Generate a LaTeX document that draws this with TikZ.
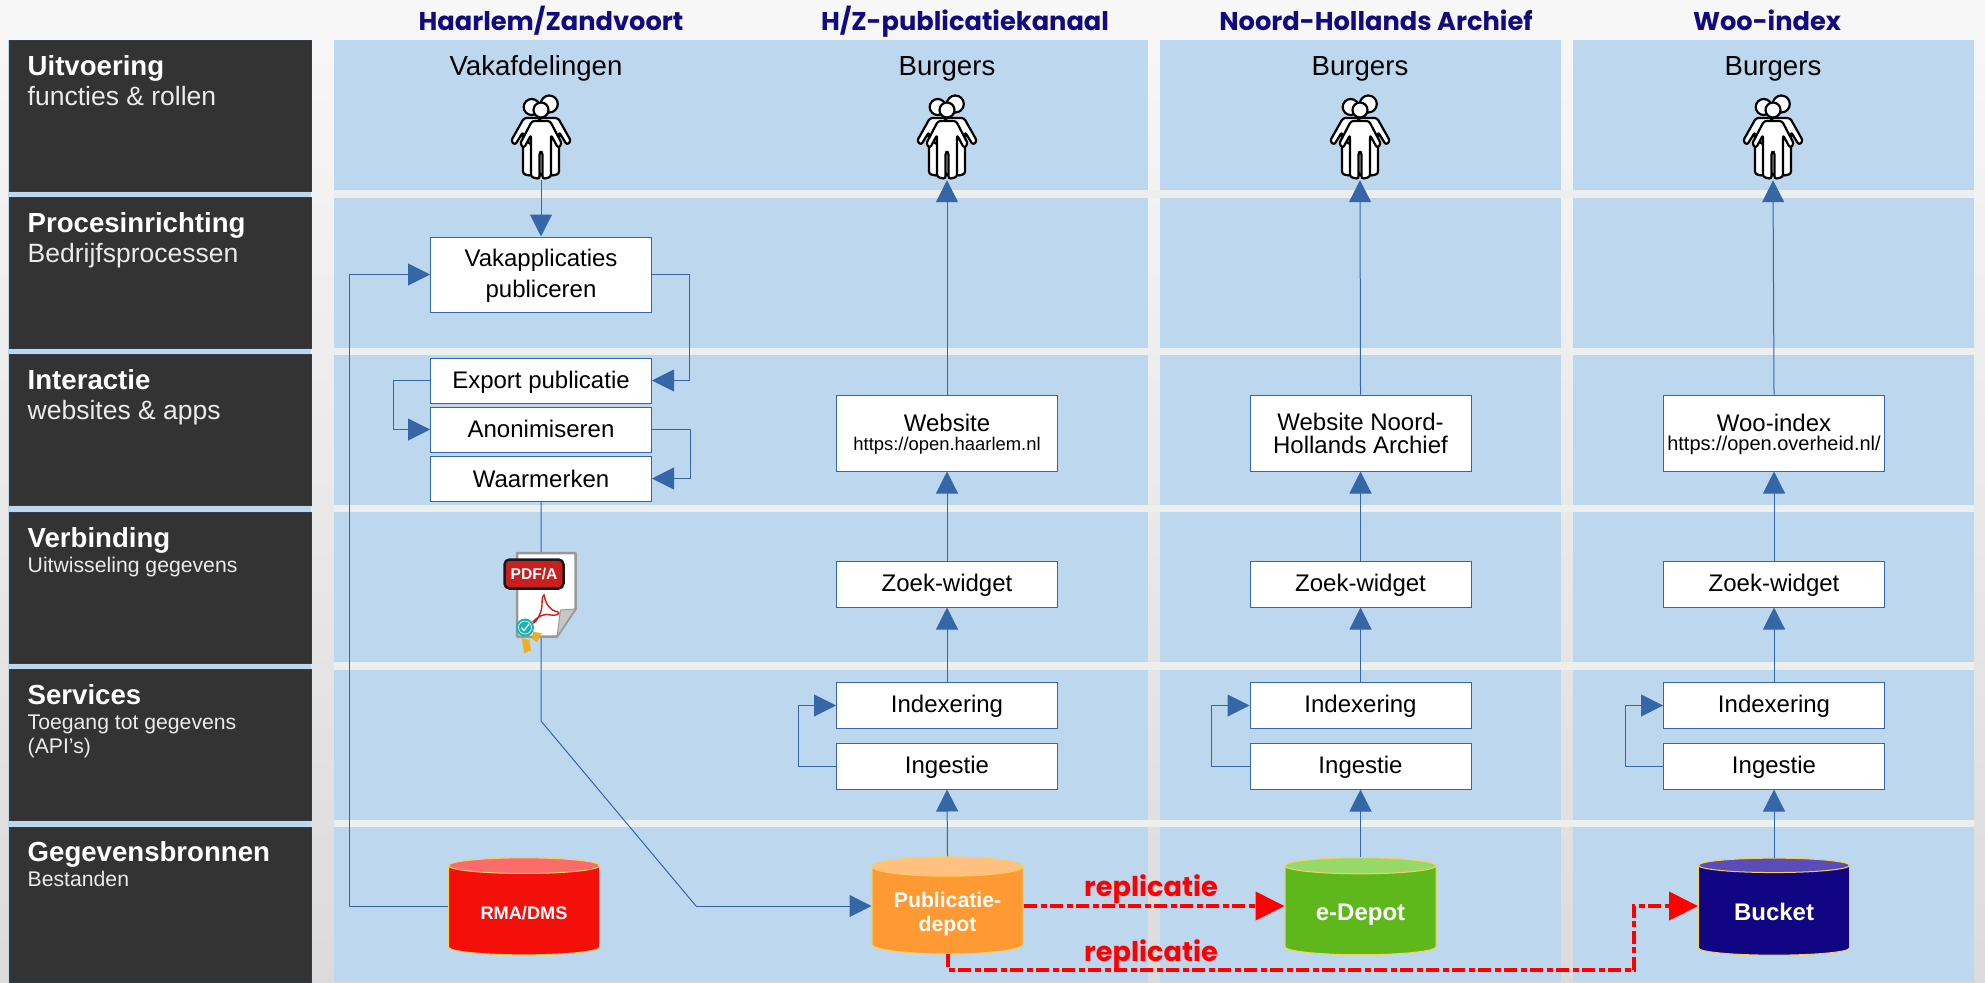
\documentclass[tikz,border=0pt]{standalone}
\usepackage{fontspec}
\setmainfont{Liberation Sans}
\newfontfamily\headfont{Poppins}
\usetikzlibrary{positioning,arrows.meta,shapes.geometric}
\definecolor{bandblue}{HTML}{BDD7EE}
\definecolor{bandgap}{HTML}{EDEEEE}
\definecolor{panelgrey}{HTML}{333333}
\definecolor{linkblue}{HTML}{3566A8}
\definecolor{headblue}{HTML}{120A80}
\definecolor{cylline}{HTML}{F2D15C}
\definecolor{rmabody}{HTML}{F40F0B}
\definecolor{rmaend}{HTML}{FB6B6B}
\definecolor{depotbody}{HTML}{FF9933}
\definecolor{depotend}{HTML}{FFC080}
\definecolor{edepotbody}{HTML}{5FB81B}
\definecolor{edepotend}{HTML}{98D868}
\definecolor{bucketbody}{HTML}{120583}
\definecolor{bucketend}{HTML}{5A4DB8}
\definecolor{lint}{HTML}{EFAE22}
\definecolor{zegelteal}{HTML}{1FB0B0}
\definecolor{badgered}{HTML}{C9201F}
\newcommand{\px}[1]{\fontsize{#1}{#1}\selectfont}

\begin{document}
\begin{tikzpicture}[x=1pt,y=-1pt,on grid,
    link/.style={draw=linkblue,line width=1pt,-{Triangle[length=22pt,width=22pt,fill=linkblue]}},
    plainlink/.style={draw=linkblue,line width=1pt},
    replink/.style={draw=red,line width=4pt,dash pattern=on 13pt off 4pt on 6pt off 3pt,-{Triangle[length=29pt,width=28pt,fill=red]}},
    box/.style={draw=linkblue,fill=white,line width=1pt,inner sep=0pt,minimum width=221pt,align=center,font=\fontsize{24}{31}\selectfont},
    onebox/.style={box,text height=18pt,text depth=4pt},
    stepbox/.style={onebox,text height=20pt,minimum height=45pt},
    panel/.style={draw=panelgrey!80!linkblue,fill=panelgrey,line width=.6pt,anchor=north west,minimum width=302pt,inner sep=0pt},
    ptitle/.style={anchor=base west,inner sep=0pt,text=white,font=\px{27.6}\bfseries},
    psub/.style={anchor=base west,inner sep=0pt,text=white!92!black,font=\px{26.5}},
    psmall/.style={anchor=base west,inner sep=0pt,text=white!92!black,font=\px{21.2}},
    kop/.style={anchor=base,inner sep=0pt,text=headblue,font=\headfont\px{25.7}\bfseries},
    actor/.style={anchor=base,inner sep=0pt,font=\px{27.6}},
    replabel/.style={anchor=base,inner sep=0pt,text=red,font=\headfont\px{27.2}\bfseries},
    store/.style={shape=cylinder,shape border rotate=90,aspect=.18,draw=cylline,line width=1pt,minimum width=151pt,minimum height=97pt,inner sep=0pt,
        cylinder uses custom fill,align=center,text=white,font=\fontsize{24}{24}\selectfont\bfseries},
    personbody/.style={draw=black,fill=white,line width=2.2pt,rounded corners=2.5pt,line join=round},
    persons/.pic={
        \foreach \dx in {-8,8} {
            \path[personbody] (\dx-9,-20) -- (\dx+9,-20) -- (\dx+22,3) -- (\dx+18,7) -- (\dx+10,-6) -- (\dx+10,36) -- (\dx+1.5,38) -- (\dx+1.5,12) -- (\dx-1.5,12) -- (\dx-1.5,38) -- (\dx-10,36) -- (\dx-10,-6) -- (\dx-18,7) -- (\dx-22,3) -- cycle;
        }
        \path[personbody] (-9.3,-31) circle (8pt);
        \path[personbody] (8.3,-34) circle (8.5pt);
        \path[personbody] (-9,-17) -- (9,-17) -- (21,6) -- (17,10) -- (10,-3) -- (10,39) -- (1.5,41) -- (1.5,14) -- (-1.5,14) -- (-1.5,41) -- (-10,39) -- (-10,-3) -- (-17,10) -- (-21,6) -- cycle;
        \path[personbody] (0,-28) circle (7.5pt);
    }]
\useasboundingbox (0,0) rectangle (1985,982);
% achtergrond
\shade[top color=white!97!black,bottom color=white!86!black] (0,0) rectangle (1985,982);
\fill[bandblue] (8,40) rectangle (311,982);
\fill[bandblue] (334,40) rectangle (1148,982);
\fill[bandblue] (1160,40) rectangle (1561,982);
\fill[bandblue] (1573,40) rectangle (1974,982);
\fill[bandgap] (334,190) rectangle (1974,198);
\fill[bandgap] (334,348) rectangle (1974,355);
\fill[bandgap] (334,505) rectangle (1974,512);
\fill[bandgap] (334,662) rectangle (1974,670);
\fill[bandgap] (334,820) rectangle (1974,827);

% kolomkoppen
\node[kop] (kop1) at (551,31) {Haarlem/Zandvoort};
\node[kop] (kop2) at (965,31) {H/Z-publicatiekanaal};
\node[kop] (kop3) at (1376,31) {Noord-Hollands Archief};
\node[kop] (kop4) at (1767,31) {Woo-index};

% lagen links
\node[panel,minimum height=151pt] (uitvoering) at (8.5,40) {};
\node[panel,minimum height=151pt] (proces) at (8.5,197) {};
\node[panel,minimum height=151pt] (interactie) at (8.5,354) {};
\node[panel,minimum height=151pt] (verbinding) at (8.5,512) {};
\node[panel,minimum height=151pt] (services) at (8.5,669) {};
\node[panel,minimum height=155pt] (bronnen) at (8.5,827) {};
\node[ptitle] (tuitvoering) at (27.5,75) {Uitvoering};
\node[psub] (suitvoering) at (27.5,105) {functies \& rollen};
\node[ptitle] (tproces) at (27.5,232) {Procesinrichting};
\node[psub] (sproces) at (27.5,262) {Bedrijfsprocessen};
\node[ptitle] (tinteractie) at (27.5,389) {Interactie};
\node[psub] (sinteractie) at (27.5,419) {websites \& apps};
\node[ptitle] (tverbinding) at (27.5,547) {Verbinding};
\node[psmall] (sverbinding) at (27.5,572) {Uitwisseling gegevens};
\node[ptitle] (tservices) at (27.5,704) {Services};
\node[psmall] (sservices) at (27.5,729) {Toegang tot gegevens};
\node[psmall] (sapi) at (27.5,753) {(API’s)};
\node[ptitle] (tbronnen) at (27.5,861) {Gegevensbronnen};
\node[psmall] (sbronnen) at (27.5,886) {Bestanden};

% actoren
\node[actor] (vak) at (536,75) {Vakafdelingen};
\node[actor] (burger2) at (947,75) {Burgers};
\node[actor] (burger3) at (1360,75) {Burgers};
\node[actor] (burger4) at (1773,75) {Burgers};
\node[minimum width=60pt,minimum height=84pt,inner sep=0pt] (groep1) at (541,138) {};
\node[minimum width=60pt,minimum height=84pt,inner sep=0pt] (groep2) at (947,138) {};
\node[minimum width=60pt,minimum height=84pt,inner sep=0pt] (groep3) at (1360,138) {};
\node[minimum width=60pt,minimum height=84pt,inner sep=0pt] (groep4) at (1773,138) {};
\pic at (groep1) {persons};
\pic at (groep2) {persons};
\pic at (groep3) {persons};
\pic at (groep4) {persons};

% Haarlem/Zandvoort
\node[box,minimum height=75pt] (vakapp) at (541,274.5) {\rule{0pt}{20pt}Vakapplicaties\\publiceren};
\node[stepbox] (export) at (541,380.5) {Export publicatie};
\node[stepbox] (anon) [below=49pt of export] {Anonimiseren};
\node[stepbox,text height=21pt] (waarmerk) [below=49pt of anon] {Waarmerken};

% kanaal
\node[box,minimum height=76pt] (web2) at (947,433) {\rule{0pt}{19.2pt}Website\\[-12pt]{\px{18.4}https://open.haarlem.nl}};
\node[onebox,minimum height=46pt] (zoek2) [below=151pt of web2] {Zoek-widget};
\node[onebox,minimum height=46pt] (index2) [below=121.5pt of zoek2] {Indexering};
\node[onebox,minimum height=46pt] (ingest2) [below=60.5pt of index2] {Ingestie};
% archief
\node[box,minimum height=76pt,font=\fontsize{24}{23}\selectfont] (web3) at (1360.5,433) {Website Noord-\\Hollands Archief};
\node[onebox,minimum height=46pt] (zoek3) [below=151pt of web3] {Zoek-widget};
\node[onebox,minimum height=46pt] (index3) [below=121.5pt of zoek3] {Indexering};
\node[onebox,minimum height=46pt] (ingest3) [below=60.5pt of index3] {Ingestie};
% woo
\node[box,minimum height=76pt] (web4) at (1774,433) {\rule{0pt}{19.2pt}Woo-index\\[-12pt]{\px{20}https://open.overheid.nl/}};
\node[onebox,minimum height=46pt] (zoek4) [below=151pt of web4] {Zoek-widget};
\node[onebox,minimum height=46pt] (index4) [below=121.5pt of zoek4] {Indexering};
\node[onebox,minimum height=46pt] (ingest4) [below=60.5pt of index4] {Ingestie};

% opslag
\node[store,cylinder body fill=rmabody,cylinder end fill=rmaend,font=\px{18.2}\bfseries,text height=21pt,text depth=4pt] (rma) at (524,910.5) {RMA/DMS};
\node[store,cylinder body fill=depotbody,cylinder end fill=depotend,font=\fontsize{21.2}{24}\selectfont\bfseries] (depot) at (947.5,910.5) {\rule{0pt}{21.5pt}Publicatie-\\depot};
\node[store,cylinder body fill=edepotbody,cylinder end fill=edepotend,text height=23pt,text depth=4pt] (edepot) at (1360.5,910.5) {e-Depot};
\node[store,cylinder body fill=bucketbody,cylinder end fill=bucketend,text height=23pt,text depth=4pt] (bucket) at (1774,910.5) {Bucket};

\coordinate (knikrma) at (349,906);
\coordinate (knikvak) at (689,380.5);
\coordinate (knikpdf1) at (541,721);
\coordinate (knikpdf2) at (696,906);
\coordinate (knikrep) at (1634,970);
\coordinate (rmain) at ([yshift=4.5pt]rma.west);
\coordinate (depotin) at ([yshift=4.5pt]depot.west);
\coordinate (depotuit) at ([yshift=4.5pt]depot.east);
\coordinate (edepotin) at ([yshift=4.5pt]edepot.west);
\coordinate (bucketin) at ([yshift=4.5pt]bucket.west);

% verbindingen
\path
    (groep1.south) edge[link] (vakapp.north)
    (depot.top) edge[link] (ingest2.south)
    (edepot.top) edge[link] (ingest3.south)
    (bucket.top) edge[link] (ingest4.south)
    (index2.north) edge[link] (zoek2.south)
    (index3.north) edge[link] (zoek3.south)
    (index4.north) edge[link] (zoek4.south)
    (zoek2.north) edge[link] (web2.south)
    (zoek3.north) edge[link] (web3.south)
    (zoek4.north) edge[link] (web4.south)
    (web2.north) edge[link] (groep2.south)
    (web3.north) edge[link] (groep3.south)
    (web4.north) edge[link] (groep4.south);
\draw[link] (vakapp.east) -| (knikvak) -- (export.east);
\draw[link] (export.west) -- ++(-37,0) |- (anon.west);
\draw[link] (anon.east) -- ++(38,0) |- (waarmerk.east);
\draw[link] (rmain) -- (knikrma) |- (vakapp.west);
\draw[plainlink] (waarmerk.south) -- (knikpdf1) -- (knikpdf2);
\draw[link] (knikpdf2) -- (depotin);
\draw[link] (ingest2.west) -- ++(-38,0) |- (index2.west);
\draw[link] (ingest3.west) -- ++(-38,0) |- (index3.west);
\draw[link] (ingest4.west) -- ++(-38,0) |- (index4.west);

\draw[replink] (depotuit) -- (edepotin);
\draw[replink] (depot.bottom) |- (knikrep) |- (bucketin);
\node[replabel] (rep1) at (1151,896) {replicatie};
\node[replabel] (rep2) at (1151,961) {replicatie};

% pdf/a document
\draw[fill=white,draw=white!60!black,line width=2.5pt,line join=round] (517,553) -- (575.5,553) -- (575.5,609) -- (557,636.5) -- (517,636.5) -- cycle;
\fill[white!78!black,draw=white!60!black,line width=1pt] (560.5,610) -- (575.5,609) -- (557,636.5) -- cycle;
\draw[badgered,line width=1.4pt] (544,595) .. controls (546,604) and (549,610) .. (558,612) .. controls (561,614) and (555,616) .. (551,615) .. controls (545,613) and (538,616) .. (533,622) .. controls (533,625) and (538,620) .. (541,611) .. controls (543,605) and (541,596) .. (544,595) -- cycle;
\node[draw=black!90,fill=badgered,line width=2.5pt,rounded corners=5pt,minimum width=59pt,minimum height=29pt,inner sep=0pt,text=white,font=\px{15.6}\bfseries] (pdfa) at (534,574) {PDF/A};
\fill[lint] (521.7,638) -- (524.3,653.3) -- (531,650) -- (529.3,640) -- cycle;
\fill[lint] (533.3,631.7) -- (541.7,633.3) -- (536.7,642.3) -- (531.7,638) -- cycle;
\node[circle,fill=zegelteal,minimum size=18pt,inner sep=0pt] (zegel) at (525,627.5) {};
\draw[white,line width=.6pt] (zegel) circle (6.5pt);
\draw[white,line width=1.2pt] (521.5,627.5) -- (524,630.5) -- (529,624);
\end{tikzpicture}
\end{document}
